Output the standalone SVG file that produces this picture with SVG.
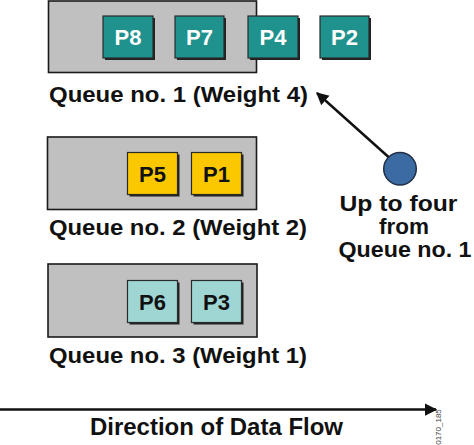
<svg xmlns="http://www.w3.org/2000/svg" width="474" height="445" viewBox="0 0 474 445">
  <defs>
    <style>
      .queue { fill: #c0c0c0; stroke: #1a1a1a; stroke-width: 1.6; }
      .shadow { fill: #222; }
      .pkt { stroke: #2a2a2a; stroke-width: 1.2; }
      .teal { fill: #1f928d; }
      .yellow { fill: #fbc800; }
      .light { fill: #9fd6d4; }
      .ptxt { font-family: "Liberation Sans", Arial, sans-serif; font-weight: bold; font-size: 22px; text-anchor: middle; }
      .white { fill: #ffffff; }
      .black { fill: #111111; }
      .lbl { font-family: "Liberation Sans", Arial, sans-serif; font-weight: bold; font-size: 22px; fill: #111; }
      .conn { stroke: #111; stroke-width: 2.5; fill: none; }
    </style>
    <marker id="ah" viewBox="0 0 10 10" refX="9" refY="5" markerWidth="5" markerHeight="5.2" orient="auto" markerUnits="strokeWidth">
      <path d="M0,0 L10,5 L0,10 z" fill="#111"/>
    </marker>
  </defs>

  <g id="queue1">
    <rect class="queue" x="48.5" y="1" width="208" height="71.5"/>
    <text class="lbl" x="49" y="102" textLength="259" lengthAdjust="spacingAndGlyphs">Queue no. 1 (Weight 4)</text>
  </g>
  <g id="p8">
    <rect class="shadow" x="105" y="18" width="50" height="42"/>
    <rect class="pkt teal" x="103" y="16" width="50" height="42"/>
    <text class="ptxt white" x="128" y="45">P8</text>
  </g>
  <g id="p7">
    <rect class="shadow" x="177" y="18" width="49" height="42"/>
    <rect class="pkt teal" x="175" y="16" width="49" height="42"/>
    <text class="ptxt white" x="199.5" y="45">P7</text>
  </g>
  <g id="p4">
    <rect class="shadow" x="250" y="18" width="50" height="42"/>
    <rect class="pkt teal" x="248" y="16" width="50" height="42"/>
    <text class="ptxt white" x="273" y="45">P4</text>
  </g>
  <g id="p2">
    <rect class="shadow" x="322" y="18" width="49" height="42"/>
    <rect class="pkt teal" x="320" y="16" width="49" height="42"/>
    <text class="ptxt white" x="344.5" y="45">P2</text>
  </g>

  <g id="queue2">
    <rect class="queue" x="47.5" y="137" width="209" height="72.5"/>
    <text class="lbl" x="49" y="235" textLength="258" lengthAdjust="spacingAndGlyphs">Queue no. 2 (Weight 2)</text>
  </g>
  <g id="p5">
    <rect class="shadow" x="129.5" y="154.5" width="50" height="42"/>
    <rect class="pkt yellow" x="127.5" y="152.5" width="50" height="42"/>
    <text class="ptxt black" x="152.5" y="181.5">P5</text>
  </g>
  <g id="p1">
    <rect class="shadow" x="193.5" y="154.5" width="50" height="42"/>
    <rect class="pkt yellow" x="191.5" y="152.5" width="50" height="42"/>
    <text class="ptxt black" x="216.5" y="181.5">P1</text>
  </g>

  <g id="queue3">
    <rect class="queue" x="48" y="264" width="209" height="73"/>
    <text class="lbl" x="49" y="363" textLength="258" lengthAdjust="spacingAndGlyphs">Queue no. 3 (Weight 1)</text>
  </g>
  <g id="p6">
    <rect class="shadow" x="129.5" y="282.5" width="50" height="42"/>
    <rect class="pkt light" x="127.5" y="280.5" width="50" height="42"/>
    <text class="ptxt black" x="152.5" y="309.5">P6</text>
  </g>
  <g id="p3">
    <rect class="shadow" x="193.5" y="282.5" width="50" height="42"/>
    <rect class="pkt light" x="191.5" y="280.5" width="50" height="42"/>
    <text class="ptxt black" x="216.5" y="309.5">P3</text>
  </g>

  <g id="scheduler">
    <circle cx="400" cy="168.7" r="16.3" fill="#3c6aa3" stroke="#1f2f45" stroke-width="1.5"/>
    <text class="lbl" x="398.5" y="211" text-anchor="middle" textLength="118" lengthAdjust="spacingAndGlyphs">Up to four</text>
    <text class="lbl" x="404" y="234" text-anchor="middle" textLength="50" lengthAdjust="spacingAndGlyphs">from</text>
    <text class="lbl" x="405" y="257" text-anchor="middle" textLength="133" lengthAdjust="spacingAndGlyphs">Queue no. 1</text>
  </g>

  <g id="flow">
    <text class="lbl" x="90" y="435" textLength="253" lengthAdjust="spacingAndGlyphs" style="font-size:23px">Direction of Data Flow</text>
    <text x="441" y="427" transform="rotate(-90 441 427)" text-anchor="middle" font-family="Liberation Sans, Arial, sans-serif" font-size="8" fill="#444">0170_185</text>
  </g>

  <g id="connectors">
    <line class="conn" x1="388.5" y1="157" x2="317" y2="93" marker-end="url(#ah)"/>
    <line class="conn" x1="0" y1="409.5" x2="436" y2="409.5" marker-end="url(#ah)"/>
  </g>
</svg>
